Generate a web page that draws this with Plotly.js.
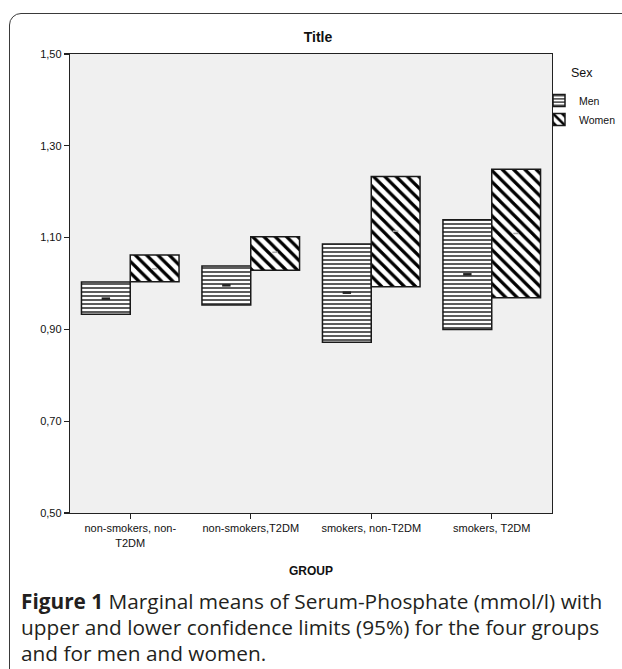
<!DOCTYPE html>
<html>
<head>
<meta charset="utf-8">
<script src="https://cdn.plot.ly/plotly-3.0.1.min.js"></script>
<style>
  html, body { margin:0; padding:0; background:#fff; overflow:hidden; }
  #frame { position:absolute; left:9px; top:13px; width:700px; height:760px;
           border:1.5px solid #3a3a3a; border-top-left-radius:12px; box-sizing:border-box; }
  #chart { position:absolute; left:0; top:0; width:622px; height:669px; }
</style>
</head>
<body>
<div id="frame"></div>
<div id="chart"></div>
<script>
// ---- data ----
var categories = ["non-smokers, non-<br>T2DM", "non-smokers,T2DM", "smokers, non-T2DM", "smokers, T2DM"];
var menLower   = [0.933, 0.953, 0.872, 0.900];
var menUpper   = [1.003, 1.038, 1.086, 1.139];
var menMean    = [0.967, 0.996, 0.980, 1.020];
var womenLower = [1.004, 1.029, 0.993, 0.969];
var womenUpper = [1.062, 1.102, 1.233, 1.249];
var womenMean  = [1.032, 1.068, 1.114, 1.109];
var yTicks     = [0.50, 0.70, 0.90, 1.10, 1.30, 1.50];

// ---- layout geometry (pixels) ----
var W = 622, H = 669;
var mL = 70, mR = 70, mT = 54, mB = 156;
var plotW = W - mL - mR, plotH = H - mT - mB;
function px(x){ return (x - mL) / plotW; }
function py(y){ return (H - mB - y) / plotH; }

function span(lo, hi){ return hi.map(function(h,i){ return h - lo[i]; }); }

var traces = [
  { type:'bar', name:'Men', x:categories, base:menLower, y:span(menLower, menUpper),
    offsetgroup:'men', hoverinfo:'skip',
    marker:{ color:'#ffffff', line:{color:'#1a1a1a', width:1.5},
             pattern:{ shape:'-', fgcolor:'#4a4a4a', bgcolor:'#ffffff', size:4, solidity:0.45 } } },
  { type:'bar', name:'Women', x:categories, base:womenLower, y:span(womenLower, womenUpper),
    offsetgroup:'women', hoverinfo:'skip',
    marker:{ color:'#ffffff', line:{color:'#1a1a1a', width:1.5},
             pattern:{ shape:'\\', fgcolor:'#000000', bgcolor:'#ffffff', size:8, solidity:0.4 } } },
  { type:'scatter', mode:'markers', x:categories, y:menMean, offsetgroup:'men', showlegend:false,
    hoverinfo:'skip', marker:{ symbol:'line-ew', size:6, line:{color:'#222', width:2.5} } },
  { type:'scatter', mode:'markers', x:categories, y:womenMean, offsetgroup:'women', showlegend:false,
    hoverinfo:'skip', marker:{ symbol:'line-ew', size:4, line:{color:'#aaa', width:1.5} } }
];

var capFont = { family:'Open Sans, Noto Sans, sans-serif', size:20.8, color:'#231f20' };

var layout = {
  width:W, height:H,
  margin:{ l:mL, r:mR, t:mT, b:mB, pad:0, autoexpand:false },
  paper_bgcolor:'rgba(0,0,0,0)',
  plot_bgcolor:'#f0f0f0',
  separators:',.',
  barmode:'group', bargap:0.19, bargroupgap:0,
  scattermode:'group', scattergap:0.19,
  font:{ family:'Liberation Sans, Arial, sans-serif', size:11, color:'#111' },
  title:{ text:'<b>Title</b>', font:{ family:'Liberation Sans, Arial, sans-serif', size:14, color:'#111' },
          x:318/W, xref:'container', xanchor:'center', y:1 - 37/H, yref:'container', yanchor:'middle' },
  xaxis:{ type:'category', showline:true, linecolor:'#222', linewidth:1.2, mirror:true,
          ticks:'outside', ticklen:5, tickcolor:'#222', tickwidth:1.2,
          tickfont:{ family:'Liberation Sans, Arial, sans-serif', size:11, color:'#111' },
          showgrid:false, zeroline:false, fixedrange:true, automargin:false },
  yaxis:{ range:[0.5, 1.5], tickvals:yTicks, tickformat:'.2f',
          showline:true, linecolor:'#222', linewidth:1.2, mirror:true,
          ticks:'outside', ticklen:5, tickcolor:'#222', tickwidth:1.2,
          tickfont:{ family:'Liberation Sans, Arial, sans-serif', size:11, color:'#111' },
          showgrid:false, zeroline:false, fixedrange:true, automargin:false },
  showlegend:true,
  legend:{ x:px(539), y:py(86), xanchor:'left', yanchor:'top', bgcolor:'rgba(0,0,0,0)',
           font:{ size:10.5, family:'Liberation Sans, Arial, sans-serif', color:'#111' },
           itemwidth:30, tracegroupgap:0 },
  annotations:[
    { text:'Sex', xref:'paper', yref:'paper', x:px(582), y:py(73), xanchor:'center', yanchor:'middle',
      showarrow:false, font:{ family:'Liberation Sans, Arial, sans-serif', size:12.5, color:'#111' } },
    { text:'<b>GROUP</b>', xref:'paper', yref:'paper', x:px(311), y:py(571), xanchor:'center', yanchor:'middle',
      showarrow:false, font:{ family:'Liberation Sans, Arial, sans-serif', size:12, color:'#111' } },
    { text:'<b>Figure 1</b> Marginal means of Serum-Phosphate (mmol/l) with', xref:'paper', yref:'paper',
      x:px(19), y:py(601), xanchor:'left', yanchor:'middle', showarrow:false, font:capFont },
    { text:'upper and lower confidence limits (95%) for the four groups', xref:'paper', yref:'paper',
      x:px(19), y:py(627), xanchor:'left', yanchor:'middle', showarrow:false, font:capFont },
    { text:'and for men and women.', xref:'paper', yref:'paper',
      x:px(19), y:py(653), xanchor:'left', yanchor:'middle', showarrow:false, font:capFont }
  ]
};

Plotly.newPlot('chart', traces, layout, { staticPlot:true, displayModeBar:false });
</script>
</body>
</html>
